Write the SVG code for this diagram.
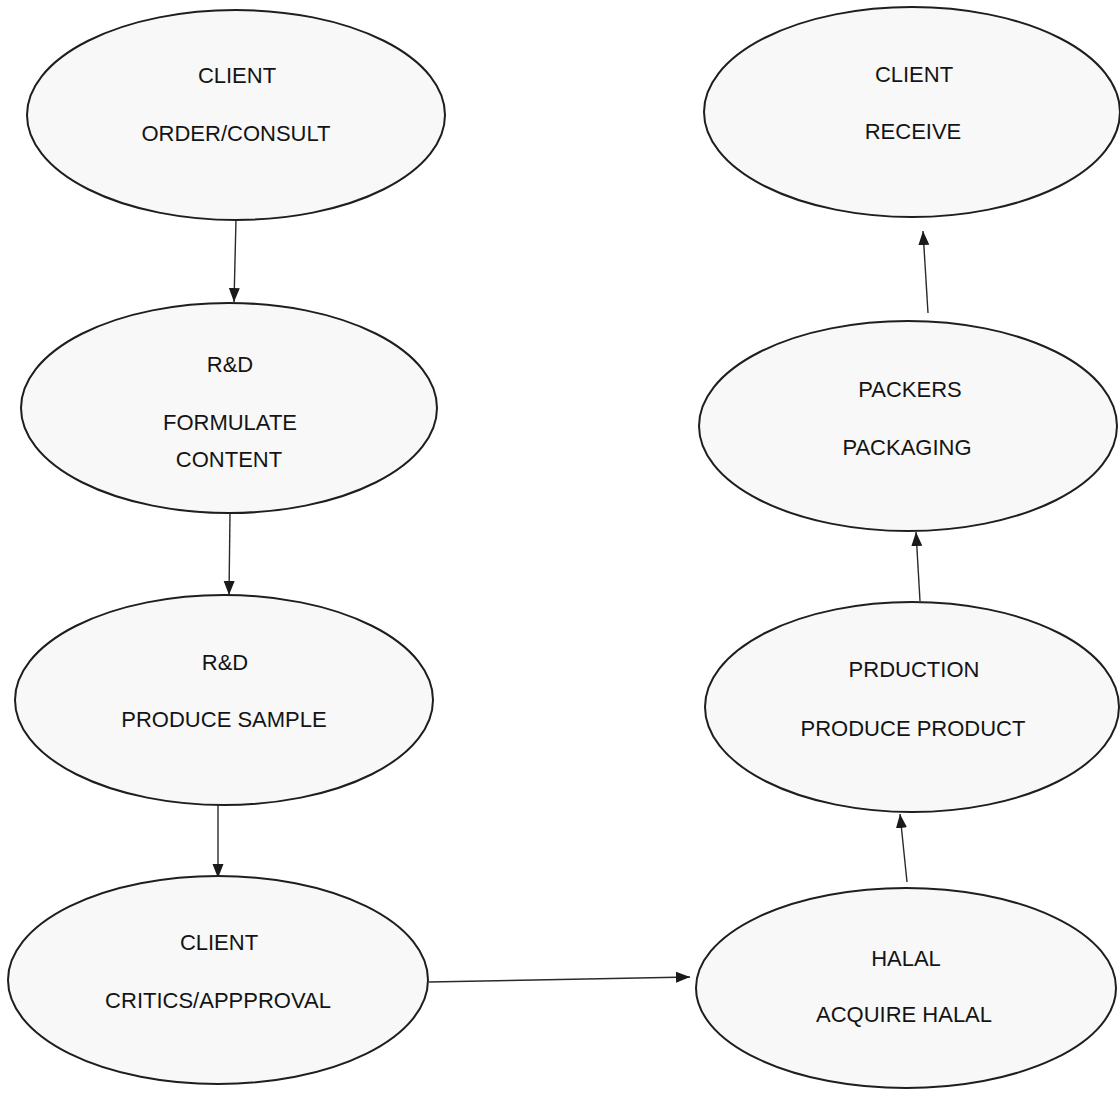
<svg xmlns="http://www.w3.org/2000/svg" width="1120" height="1098" viewBox="0 0 1120 1098">
<style>
.node ellipse{fill:#f8f8f8;stroke:#1e1e1e;stroke-width:2}
.node text{font-family:"Liberation Sans",Arial,sans-serif;font-size:22px;fill:#141414;text-anchor:middle}
.conn line{stroke:#2a2a2a;stroke-width:1.4;fill:none}
</style>
<defs>
<marker id="ah" markerUnits="userSpaceOnUse" markerWidth="14" markerHeight="14" viewBox="0 0 14 14" refX="14" refY="7" orient="auto">
<path d="M0,1.5 L14,7 L0,12.5 Z" fill="#1a1a1a"/>
</marker>
</defs>
<rect width="1120" height="1098" fill="#ffffff"/>
<g id="connectors" class="conn">
<line x1="236" y1="219" x2="234" y2="302" marker-end="url(#ah)"/>
<line x1="230" y1="513" x2="229" y2="595" marker-end="url(#ah)"/>
<line x1="218" y1="800" x2="218" y2="878" marker-end="url(#ah)"/>
<line x1="429" y1="982" x2="690" y2="977" marker-end="url(#ah)"/>
<line x1="907" y1="882" x2="900" y2="814" marker-end="url(#ah)"/>
<line x1="920" y1="601" x2="916" y2="532" marker-end="url(#ah)"/>
<line x1="928" y1="313" x2="923" y2="231" marker-end="url(#ah)"/>
</g>
<g id="client-order" class="node">
<ellipse cx="236" cy="115" rx="209" ry="105"/>
<text x="237" y="83">CLIENT</text>
<text x="236" y="141">ORDER/CONSULT</text>
</g>
<g id="rd-formulate" class="node">
<ellipse cx="229" cy="408" rx="208" ry="105"/>
<text x="230" y="372">R&amp;D</text>
<text x="230" y="430">FORMULATE</text>
<text x="229" y="467">CONTENT</text>
</g>
<g id="rd-sample" class="node">
<ellipse cx="224" cy="700" rx="209" ry="105"/>
<text x="225" y="670">R&amp;D</text>
<text x="224" y="727">PRODUCE SAMPLE</text>
</g>
<g id="client-critics" class="node">
<ellipse cx="218" cy="980" rx="210" ry="104"/>
<text x="219" y="950">CLIENT</text>
<text x="218" y="1008">CRITICS/APPPROVAL</text>
</g>
<g id="halal" class="node">
<ellipse cx="906" cy="988" rx="210" ry="100"/>
<text x="906" y="966">HALAL</text>
<text x="904" y="1022">ACQUIRE HALAL</text>
</g>
<g id="production" class="node">
<ellipse cx="912" cy="707" rx="207" ry="105"/>
<text x="914" y="677">PRDUCTION</text>
<text x="913" y="736">PRODUCE PRODUCT</text>
</g>
<g id="packers" class="node">
<ellipse cx="908" cy="426" rx="209" ry="105"/>
<text x="910" y="397">PACKERS</text>
<text x="907" y="455">PACKAGING</text>
</g>
<g id="client-receive" class="node">
<ellipse cx="912" cy="112" rx="208" ry="105"/>
<text x="914" y="82">CLIENT</text>
<text x="913" y="139">RECEIVE</text>
</g>
</svg>
